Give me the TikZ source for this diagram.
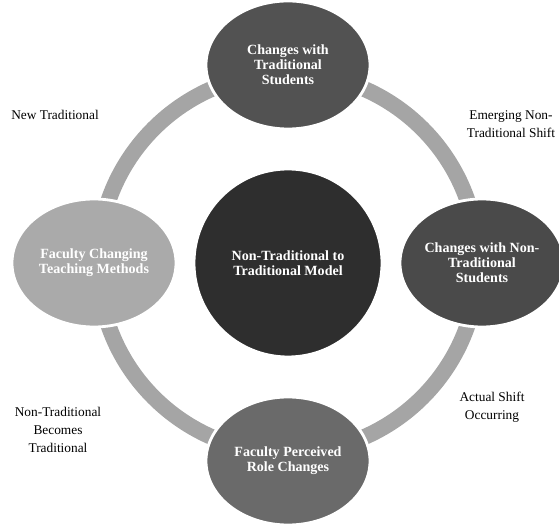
\documentclass[tikz,border=0pt]{standalone}
\usepackage{fontspec}
\setmainfont{Liberation Serif}
\usetikzlibrary{shapes.geometric}

\definecolor{ringgray}{HTML}{A5A5A5}
\definecolor{hubgray}{HTML}{2E2E2E}
\definecolor{topgray}{HTML}{525252}
\definecolor{rightgray}{HTML}{4A4A4A}
\definecolor{leftgray}{HTML}{AAAAAA}
\definecolor{bottomgray}{HTML}{6A6A6A}

\begin{document}
\begin{tikzpicture}[
  bubble/.style={ellipse,draw=white,line width=2pt,text=white,align=center,
    font=\bfseries\fontsize{10}{10.6}\selectfont,inner sep=0pt,
    minimum width=4.1cm,minimum height=3.2cm},
  phase/.style={align=center,font=\fontsize{9.5}{12.8}\selectfont}]
  \useasboundingbox (-7.2,-6.6) rectangle (6.775,6.575);

  % ring behind the bubbles
  \draw[ringgray,line width=0.4cm] (0,0) circle (4.75);

  \node[bubble,circle,fill=hubgray,minimum size=4.7cm] (1) at (0,0) {Non-Traditional to\\Traditional Model}; % hub
  \node[bubble,fill=topgray] (2) at (0,4.95) {Changes with\\Traditional\\Students};
  \node[bubble,fill=rightgray] (3) at (4.85,0) {Changes with Non-\\Traditional\\Students};
  \node[bubble,fill=bottomgray] (4) at (0,-4.95) {Faculty Perceived\\Role Changes};
  \node[bubble,fill=leftgray] (5) at (-4.85,0) {Faculty Changing\\Teaching Methods};

  % phases between the bubbles
  \node[phase] (6) at (5.575,3.475) {Emerging Non-\\Traditional Shift};
  \node[phase] (7) at (5.1,-3.6) {Actual Shift\\Occurring};
  \node[phase] (8) at (-5.75,-4.175) {Non-Traditional\\Becomes\\Traditional};
  \node[phase] (9) at (-5.825,3.7) {New Traditional};
\end{tikzpicture}
\end{document}
